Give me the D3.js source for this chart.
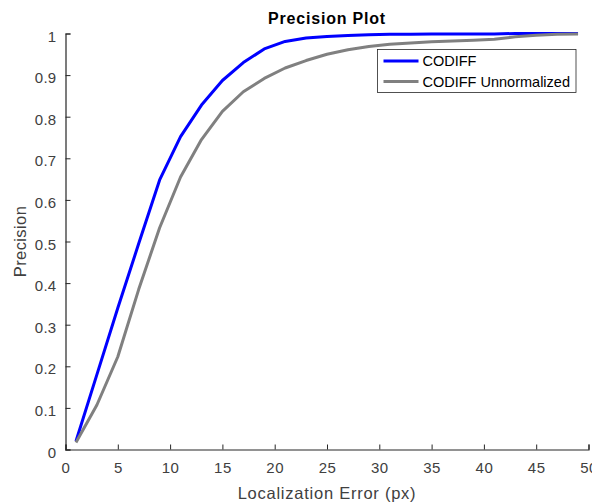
<!DOCTYPE html>
<html>
    <head>
        <meta charset="utf-8"/>
        <script src="https://cdnjs.cloudflare.com/ajax/libs/d3/7.8.5/d3.min.js"></script>
        <style>
            body { margin: 0; background: #fff; }
            svg { font-family: "Liberation Sans", Arial, Helvetica, sans-serif; }
        </style>
    </head>
    <body>
        <script>
            // localization error thresholds (px)
            const errors = [1, 3, 5, 7, 9, 11, 13, 15, 17, 19, 21, 23, 25, 27, 29, 31, 33, 35, 37, 39, 41, 43, 45, 47, 49];
            const codiff = [0.02, 0.18, 0.34, 0.495, 0.648, 0.752, 0.828, 0.887, 0.93, 0.963, 0.981, 0.989, 0.993, 0.995, 0.997, 0.998, 0.998, 0.999, 0.999, 0.999, 0.999, 1.0, 1.0, 1.0, 1.0];
            const codiffUnnorm = [0.017, 0.107, 0.223, 0.385, 0.533, 0.655, 0.745, 0.813, 0.86, 0.892, 0.917, 0.935, 0.95, 0.961, 0.969, 0.974, 0.977, 0.98, 0.982, 0.984, 0.986, 0.992, 0.996, 0.998, 0.999];
            const seriesNames = ["CODIFF", "CODIFF Unnormalized"];
            const seriesColors = ["#0000ff", "#808080"];
            const xTicks = [0, 5, 10, 15, 20, 25, 30, 35, 40, 45, 50];
            const yTicks = [0, 0.1, 0.2, 0.3, 0.4, 0.5, 0.6, 0.7, 0.8, 0.9, 1];

            const width = 592, height = 504;
            const margin = {left: 65.5, right: 3.5, top: 33.5, bottom: 54.5};
            const axisColor = "#262626";
            const textColor = "#404040";

            const svg = d3.select("body").append("svg")
                .attr("width", width)
                .attr("height", height);

            const x = d3.scaleLinear().domain([0, 50]).range([margin.left, width - margin.right]);
            const y = d3.scaleLinear().domain([0, 1]).range([height - margin.bottom, margin.top]);

            // x axis, ticks pointing inward
            const xAxis = svg.append("g")
                .attr("transform", `translate(0,${y(0)})`)
                .call(d3.axisBottom(x).tickValues(xTicks).tickSize(-5).tickPadding(13).tickFormat(d3.format("d")));
            xAxis.selectAll("text").attr("font-size", 15).attr("letter-spacing", 0.5).attr("fill", textColor);

            const yAxis = svg.append("g")
                .attr("transform", `translate(${x(0)},0)`)
                .call(d3.axisLeft(y).tickValues(yTicks).tickSize(-5).tickPadding(9).tickFormat(d => d === 0 || d === 1 ? String(d) : d3.format(".1f")(d)));
            yAxis.selectAll("text").attr("font-size", 15).attr("letter-spacing", 0.3).attr("dy", "0.5em").attr("fill", textColor);

            svg.selectAll(".domain, .tick line").attr("stroke", axisColor);
            svg.selectAll(".domain").attr("stroke-width", 1.2);

            const line = d3.line().x(d => x(d[0])).y(d => y(d[1]));
            [codiff, codiffUnnorm].forEach((vals, i) => {
                svg.append("path")
                    .datum(errors.map((e, j) => [e, vals[j]]))
                    .attr("fill", "none")
                    .attr("stroke", seriesColors[i])
                    .attr("stroke-width", 3)
                    .attr("stroke-linejoin", "round")
                    .attr("d", line);
            });

            // title and axis labels
            svg.append("text")
                .attr("x", (x(0) + x(50)) / 2)
                .attr("y", 24)
                .attr("text-anchor", "middle")
                .attr("font-size", 16)
                .attr("letter-spacing", 0.8)
                .attr("font-weight", "bold")
                .attr("fill", "#000")
                .text("Precision Plot");

            svg.append("text")
                .attr("x", (x(0) + x(50)) / 2)
                .attr("y", 499)
                .attr("text-anchor", "middle")
                .attr("font-size", 16.5)
                .attr("letter-spacing", 0.75)
                .attr("fill", textColor)
                .text("Localization Error (px)");

            svg.append("text")
                .attr("transform", `translate(26,${(y(0) + y(1)) / 2}) rotate(-90)`)
                .attr("text-anchor", "middle")
                .attr("font-size", 16.5)
                .attr("letter-spacing", 0.4)
                .attr("fill", textColor)
                .text("Precision");

            // legend
            const legend = svg.append("g").attr("transform", "translate(377.5,49.5)");
            legend.append("rect")
                .attr("width", 198.5)
                .attr("height", 43)
                .attr("fill", "#fff")
                .attr("stroke", axisColor)
                .attr("stroke-width", 0.8);
            seriesNames.forEach((name, i) => {
                const row = legend.append("g").attr("transform", `translate(0,${11.5 + i * 20.5})`);
                row.append("line")
                    .attr("x1", 6).attr("x2", 41)
                    .attr("stroke", seriesColors[i])
                    .attr("stroke-width", 3);
                row.append("text")
                    .attr("x", 45)
                    .attr("dy", "0.35em")
                    .attr("font-size", 14.5)
                    .attr("fill", "#000")
                    .text(name);
            });
        </script>
    </body>
</html>
